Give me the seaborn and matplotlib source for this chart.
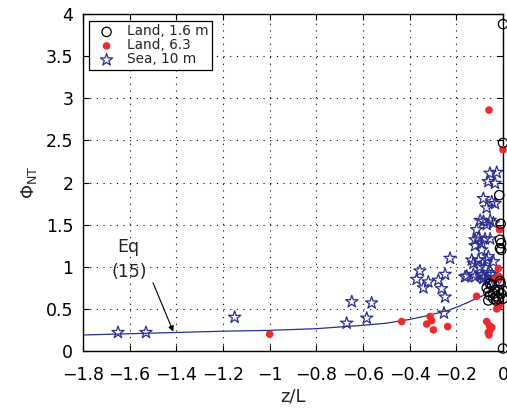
import matplotlib
matplotlib.use("Agg")
import matplotlib.pyplot as plt
import seaborn as sns

# ---- data ----
land16_x = [0.0, 0.0, 0.0, -0.016, -0.010, -0.013, -0.008, -0.008, -0.013,
            -0.070, -0.056, -0.063, -0.041, -0.027, -0.020, 0.0, -0.010,
            -0.048, -0.034, -0.008, -0.056, -0.041, 0.0, -0.063, -0.013,
            -0.020, -0.030]
land16_y = [3.88, 2.47, 0.03, 1.85, 1.51, 1.32, 1.28, 1.20, 1.22,
            0.75, 0.80, 0.70, 0.68, 0.65, 0.72, 0.72, 0.80,
            0.78, 0.72, 0.68, 0.66, 0.62, 0.62, 0.60, 0.83,
            0.62, 0.60]

land63_x = [-1.0, -0.434, -0.313, -0.306, -0.327, -0.298, -0.237, -0.113,
            -0.070, -0.063, -0.055, -0.048, -0.060, -0.058, -0.027, -0.020,
            -0.013, -0.020, -0.020, -0.034, -0.015, 0.0, -0.060, -0.013]
land63_y = [0.20, 0.35, 0.41, 0.36, 0.32, 0.25, 0.29, 0.65,
            0.35, 0.22, 0.25, 0.28, 0.19, 0.30, 0.50, 0.52,
            0.87, 0.98, 0.89, 0.85, 1.44, 2.39, 2.86, 0.55]

sea_x = [-1.65, -1.53, -1.15, -0.670, -0.648, -0.584, -0.563,
         -0.356, -0.370, -0.320, -0.341, -0.277, -0.248, -0.263, -0.248, -0.253,
         -0.156, -0.127, -0.091, -0.070, -0.227, -0.134, -0.120, -0.113,
         -0.098, -0.084, -0.063, -0.027, -0.034, -0.048, -0.070, -0.034,
         -0.084, -0.055, -0.105, -0.077, -0.055, -0.091, -0.105, -0.070,
         -0.041, -0.127, -0.098, -0.077, -0.063, -0.084, -0.055, -0.056,
         -0.070, -0.041, -0.120, -0.091, -0.063, -0.163, -0.120, -0.084,
         -0.048, -0.034]
sea_y = [0.22, 0.22, 0.40, 0.33, 0.585, 0.39, 0.57,
         0.95, 0.85, 0.82, 0.75, 0.84, 0.91, 0.74, 0.64, 0.45,
         0.89, 0.91, 0.90, 0.84, 1.10, 1.08, 1.32, 1.44,
         1.55, 1.81, 2.01, 2.12, 1.99, 1.77, 1.70, 1.75,
         1.54, 1.55, 1.34, 1.33, 1.33, 1.20, 1.08, 1.08,
         1.06, 1.04, 1.00, 0.99, 0.93, 0.87, 0.80, 2.11,
         1.50, 1.52, 1.25, 1.28, 1.12, 0.88, 0.88, 0.86,
         0.91, 0.87]

eq_x = [-1.8, -1.6, -1.4, -1.2, -1.0, -0.8, -0.7, -0.6, -0.5, -0.4, -0.34,
        -0.28, -0.227, -0.19, -0.156, -0.125, -0.099, -0.075, -0.056,
        -0.04, -0.02, 0.0]
eq_y = [0.19, 0.205, 0.22, 0.235, 0.245, 0.265, 0.285, 0.305, 0.33, 0.375, 0.41,
        0.45, 0.49, 0.53, 0.57, 0.61, 0.64, 0.67, 0.70,
        0.73, 0.78, 0.86]

xticks = [-1.8, -1.6, -1.4, -1.2, -1.0, -0.8, -0.6, -0.4, -0.2, 0.0]
xtick_labels = ["\u22121.8", "\u22121.6", "\u22121.4", "\u22121.2", "\u22121",
                "\u22120.8", "\u22120.6", "\u22120.4", "\u22120.2", "0"]
yticks = [0, 0.5, 1, 1.5, 2, 2.5, 3, 3.5, 4]
ytick_labels = ["0", "0.5", "1", "1.5", "2", "2.5", "3", "3.5", "4"]
legend_labels = ["Land, 1.6 m", "Land, 6.3", "Sea, 10 m"]

# ---- style ----
sns.set_theme(style="ticks")
plt.rcParams["font.family"] = ["DejaVu Sans"]
plt.rcParams["mathtext.fontset"] = "dejavusans"

fig = plt.figure(figsize=(5.07, 4.16), dpi=100)
ax = fig.add_axes([83 / 507, 1 - 351 / 416, 420 / 507, 337 / 416])

navy = "#2b2f8f"
red = "#ee2a2a"

sns.lineplot(x=eq_x, y=eq_y, ax=ax, color=navy, lw=0.9, sort=True,
             estimator=None, zorder=2)

h_sea = ax.scatter(sea_x, sea_y, marker="*", s=85, facecolors="none",
                   edgecolors=navy, linewidths=0.9, clip_on=False, zorder=3)
sns.scatterplot(x=land63_x, y=land63_y, ax=ax, marker="o", s=30,
                color=red, edgecolor="none", linewidth=0, clip_on=False,
                zorder=4)
h_red = ax.collections[-1]
h_land = ax.scatter(land16_x, land16_y, marker="o", s=45, facecolors="none",
                    edgecolors="black", linewidths=0.9, clip_on=False, zorder=5)

ax.set_xlim(-1.8, 0)
ax.set_ylim(0, 4)
ax.set_xticks(xticks)
ax.set_xticklabels(xtick_labels)
ax.set_yticks(yticks)
ax.set_yticklabels(ytick_labels)
ax.tick_params(direction="in", length=4, width=0.8, labelsize=12.5,
               top=True, right=True, colors="black")
ax.tick_params(axis="x", pad=11)
ax.tick_params(axis="y", pad=7)
ax.grid(True, linestyle=(0, (1, 5)), color="black", linewidth=0.8)
for s in ax.spines.values():
    s.set_color("black")
    s.set_linewidth(1.0)

ax.set_xlabel("z/L", fontsize=13, labelpad=2)
ax.set_ylabel("\u03a6$_{\\rm NT}$", fontsize=13, labelpad=5)

ax.text(-1.607, 1.23, "Eq", fontsize=12.5, ha="center", va="center")
ax.text(-1.603, 0.94, "(15)", fontsize=12.5, ha="center", va="center")
ax.annotate("", xy=(-1.413, 0.23), xytext=(-1.50, 0.81),
            arrowprops=dict(arrowstyle="-|>", color="black", lw=0.8,
                            mutation_scale=8, shrinkA=0, shrinkB=0))

leg = ax.legend([h_land, h_red, h_sea], legend_labels,
                loc="upper left", bbox_to_anchor=(0.014, 0.979),
                borderaxespad=0, fontsize=9.8, frameon=True, fancybox=False,
                edgecolor="black", framealpha=1, handletextpad=0.45,
                labelspacing=0.0, borderpad=0.25, handlelength=2.1)
leg.get_frame().set_linewidth(0.9)

fig.savefig("out.png", dpi=100)
